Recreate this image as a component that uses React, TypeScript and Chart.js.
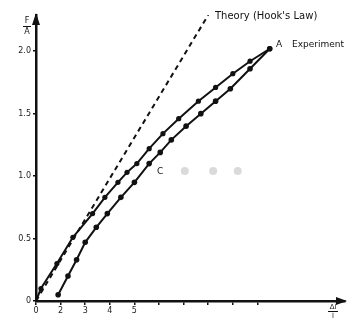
import React, { useEffect, useRef } from "react";
import { Chart, registerables } from "chart.js";

Chart.register(...registerables);

const theoryX = [0, 7.0];
const theoryY = [0, 2.29];

const upperX = [0, 0.2, 0.85, 1.5, 2.3, 2.8, 3.33, 3.7, 4.1, 4.6, 5.16, 5.8, 6.6, 7.3, 8.0, 8.7, 9.5];
const upperY = [0, 0.1, 0.3, 0.51, 0.7, 0.83, 0.95, 1.03, 1.1, 1.22, 1.34, 1.46, 1.6, 1.71, 1.82, 1.92, 2.02];

const lowerX = [0.9, 1.3, 1.65, 2.0, 2.45, 2.9, 3.45, 4.0, 4.6, 5.05, 5.5, 6.1, 6.7, 7.3, 7.9, 8.7, 9.5];
const lowerY = [0.05, 0.2, 0.33, 0.47, 0.59, 0.7, 0.83, 0.95, 1.1, 1.19, 1.29, 1.4, 1.5, 1.6, 1.7, 1.86, 2.02];

const faintX = [6.05, 7.2, 8.2];
const faintY = [1.04, 1.04, 1.04];

const xTickValues = [0, 1, 2, 3, 4, 5, 6, 7, 8, 9];
const xTickLabels = ["0", "2", "3", "4", "5", "", "", "", "", ""];
const yTickValues = [0, 0.5, 1.0, 1.5, 2.0];
const yTickLabels = ["0", "0.5", "1.0", "1.5", "2.0"];

const pts = (xs: number[], ys: number[]) => xs.map((x, i) => ({ x, y: ys[i] }));

export default function App() {
  const ref = useRef<HTMLCanvasElement>(null);
  useEffect(() => {
    document.body.style.margin = "0";
    const annot = {
      id: "annot",
      afterDraw(chart: any) {
        const { ctx, chartArea } = chart;
        const { left, right, top, bottom } = chartArea;
        ctx.save();
        ctx.fillStyle = "#111";
        ctx.strokeStyle = "#111";
        // arrows
        ctx.beginPath();
        ctx.moveTo(left, top - 2);
        ctx.lineTo(left - 4, top + 10);
        ctx.lineTo(left + 4, top + 10);
        ctx.closePath();
        ctx.fill();
        ctx.beginPath();
        ctx.moveTo(right + 2, bottom);
        ctx.lineTo(right - 9, bottom - 4);
        ctx.lineTo(right - 9, bottom + 4);
        ctx.closePath();
        ctx.fill();
        ctx.font = "10px 'DejaVu Sans'";
        ctx.textBaseline = "middle";
        ctx.textAlign = "left";
        ctx.fillText("Theory (Hook's Law)", 215, 16);
        ctx.font = "9px 'DejaVu Sans'";
        ctx.fillText("A", 276, 45);
        ctx.fillText("Experiment", 292, 45);
        ctx.fillText("C", 157, 172);
        // y title fraction
        ctx.font = "8px 'DejaVu Sans'";
        ctx.textAlign = "center";
        ctx.fillText("F", 27, 21);
        ctx.fillText("A", 27, 32);
        ctx.lineWidth = 1;
        ctx.beginPath();
        ctx.moveTo(23, 26.5);
        ctx.lineTo(31, 26.5);
        ctx.stroke();
        // x title fraction
        ctx.font = "7px 'DejaVu Sans'";
        ctx.fillText("Δl", 333, 307);
        ctx.fillText("l", 333, 316);
        ctx.beginPath();
        ctx.moveTo(328, 311.5);
        ctx.lineTo(338, 311.5);
        ctx.stroke();
        ctx.restore();
      },
    };
    const chart = new Chart(ref.current!, {
      type: "scatter",
      data: {
        datasets: [
          {
            label: "Theory",
            data: pts(theoryX, theoryY),
            showLine: true,
            borderColor: "#111",
            borderWidth: 2,
            borderDash: [5, 4],
            pointRadius: 0,
          },
          {
            label: "Upper",
            data: pts(upperX, upperY),
            showLine: true,
            borderColor: "#111",
            backgroundColor: "#111",
            borderWidth: 2,
            pointRadius: 2.6,
            pointBorderWidth: 0,
          },
          {
            label: "Lower",
            data: pts(lowerX, lowerY),
            showLine: true,
            borderColor: "#111",
            backgroundColor: "#111",
            borderWidth: 2,
            pointRadius: 2.8,
            pointBorderWidth: 0,
          },
          {
            label: "Faint",
            data: pts(faintX, faintY),
            showLine: false,
            backgroundColor: "rgba(150,150,150,0.35)",
            pointRadius: 4,
            pointBorderWidth: 0,
          },
        ],
      },
      options: {
        animation: false,
        responsive: false,
        layout: { padding: { top: 15, right: 4, left: 0, bottom: 0 } },
        plugins: { legend: { display: false }, tooltip: { enabled: false } },
        scales: {
          x: {
            type: "linear",
            min: 0,
            max: 12.56,
            afterBuildTicks: (s: any) => {
              s.ticks = xTickValues.map((v) => ({ value: v }));
            },
            afterFit: (s: any) => {
              s.height = 20;
            },
            grid: { drawOnChartArea: false, drawTicks: true, tickLength: 4, color: "#111", lineWidth: 1.5 },
            border: { color: "#111", width: 2.5 },
            ticks: {
              color: "#222",
              font: { family: "DejaVu Sans", size: 8 },
              padding: 1,
              maxRotation: 0,
              autoSkip: false,
              callback: (v: any, i: number) => xTickLabels[i] ?? "",
            },
          },
          y: {
            type: "linear",
            min: 0,
            max: 2.29,
            afterBuildTicks: (s: any) => {
              s.ticks = yTickValues.map((v) => ({ value: v }));
            },
            afterFit: (s: any) => {
              s.width = 36;
            },
            grid: { drawOnChartArea: false, drawTicks: true, tickLength: 3, color: "#111", lineWidth: 1.5 },
            border: { color: "#111", width: 2.5 },
            ticks: {
              color: "#222",
              font: { family: "DejaVu Sans", size: 8 },
              padding: 2,
              autoSkip: false,
              callback: (v: any, i: number) => yTickLabels[i] ?? "",
            },
          },
        },
      },
      plugins: [annot],
    });
    return () => chart.destroy();
  }, []);
  return <canvas ref={ref} width={349} height={321} style={{ display: "block" }} />;
}
